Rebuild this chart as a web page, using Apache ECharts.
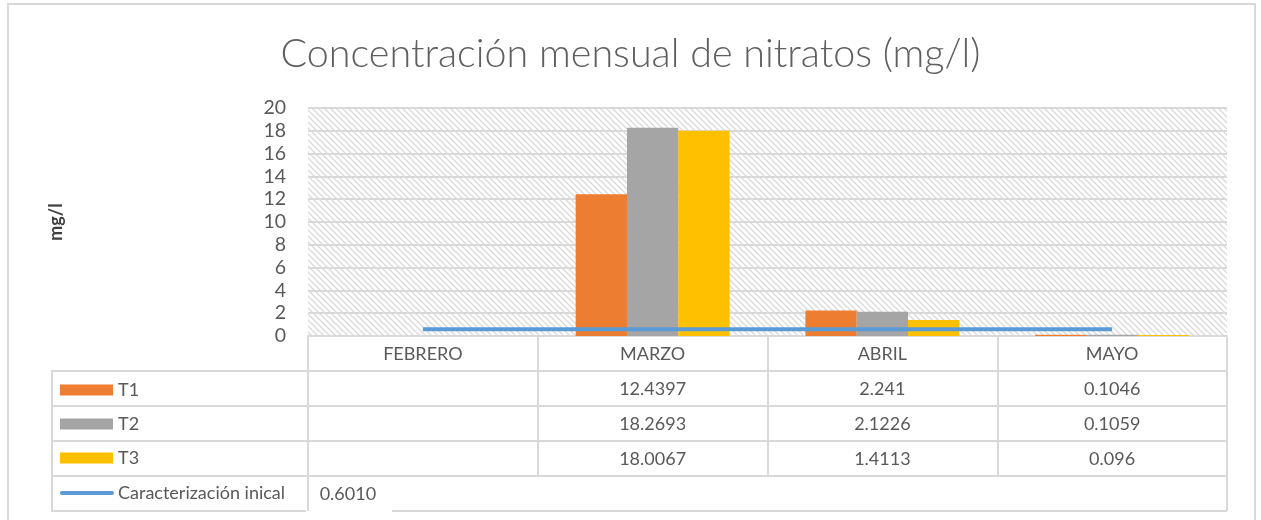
<!DOCTYPE html>
<html>
<head>
<meta charset="utf-8">
<script src="https://cdn.jsdelivr.net/npm/echarts@6/dist/echarts.min.js"></script>
<style>
  html, body { margin: 0; padding: 0; background: #fff; }
  #chart { width: 1261px; height: 520px; }
</style>
</head>
<body>
<div id="chart"></div>
<script>
const months = ['FEBRERO', 'MARZO', 'ABRIL', 'MAYO']
const t1 = [null, 12.4397, 2.241, 0.1046]
const t2 = [null, 18.2693, 2.1226, 0.1059]
const t3 = [null, 18.0067, 1.4113, 0.096]
const caract = [0.601, 0.601, 0.601, 0.601]
const caractShown = ['0.6010', '', '', '']
const yTicks = { min: 0, max: 20, interval: 2 }

const textColor = '#595959'
const gridColor = '#d9d9d9'
const lineColor = '#5B9BD5'
const bodyFont = 'Lato, "Open Sans", sans-serif'
const tableSize = 18

// diagonal hatch for the plot background
function hatch() {
  const c = document.createElement('canvas')
  c.width = 6
  c.height = 6
  const ctx = c.getContext('2d')
  ctx.fillStyle = '#fff'
  ctx.fillRect(0, 0, 6, 6)
  ctx.strokeStyle = '#d9d9d9'
  ctx.lineWidth = 1.3
  ctx.beginPath()
  ctx.moveTo(-1, -1); ctx.lineTo(7, 7)
  ctx.moveTo(-1, 5); ctx.lineTo(1, 7)
  ctx.moveTo(5, -1); ctx.lineTo(7, 1)
  ctx.stroke()
  return c
}

function rowAxis(offset, values) {
  return {
    type: 'category',
    data: months,
    position: 'bottom',
    offset: offset,
    axisLine: { show: true, lineStyle: { color: gridColor, width: 2 } },
    axisTick: { show: false },
    axisLabel: {
      interval: 0,
      margin: 9,
      color: textColor,
      fontSize: tableSize,
      fontFamily: bodyFont,
      formatter: (v, i) => (values[i] == null ? '' : String(values[i]))
    }
  }
}

function tableLine(x1, y1, x2, y2) {
  return { type: 'line', silent: true, shape: { x1, y1, x2, y2 }, style: { stroke: gridColor, lineWidth: 2 } }
}

const chart = echarts.init(document.getElementById('chart'))
chart.setOption({
  animation: false,
  title: {
    text: 'Concentración mensual de nitratos (mg/l)',
    left: 'center',
    top: 29,
    textStyle: {
      color: '#5f5f5f',
      fontSize: 39.5,
      fontWeight: 300,
      fontFamily: bodyFont
    }
  },
  grid: {
    left: 308,
    right: 34,
    top: 108,
    bottom: 184,
    show: true,
    borderWidth: 0,
    backgroundColor: { image: hatch(), repeat: 'repeat' }
  },
  legend: {
    orient: 'vertical',
    left: 55,
    top: 376,
    icon: 'rect',
    itemWidth: 53,
    itemHeight: 11,
    itemGap: 16,
    selectedMode: false,
    textStyle: { color: textColor, fontSize: tableSize, fontFamily: bodyFont },
    data: ['T1', 'T2', 'T3']
  },
  xAxis: [
    {
      type: 'category',
      data: months,
      position: 'bottom',
      axisLine: { show: true, lineStyle: { color: gridColor, width: 2 } },
      axisTick: { show: true, interval: 0, length: 139, lineStyle: { color: gridColor, width: 2 } },
      axisLabel: {
        interval: 0,
        margin: 9,
        color: textColor,
        fontSize: tableSize,
        fontFamily: bodyFont
      }
    },
    rowAxis(35, t1),
    rowAxis(70, t2),
    rowAxis(105, t3),
    {
      type: 'category',
      data: months,
      position: 'bottom',
      offset: 140,
      axisLine: { show: true, lineStyle: { color: gridColor, width: 2 } },
      axisTick: { show: false },
      axisLabel: {
        interval: 0,
        margin: 9,
        color: textColor,
        fontSize: tableSize,
        fontFamily: bodyFont,
        formatter: (v, i) => caractShown[i] ? '{s|' + caractShown[i] + '}' : '',
        rich: { s: { color: textColor, fontSize: tableSize, fontFamily: bodyFont, padding: [0, 150, 0, 0] } }
      }
    }
  ],
  yAxis: {
    type: 'value',
    min: yTicks.min,
    max: yTicks.max,
    interval: yTicks.interval,
    name: 'mg/l',
    nameLocation: 'middle',
    nameRotate: 90,
    nameGap: 243,
    nameTextStyle: { color: '#404040', fontSize: 18, fontWeight: 'bold', fontFamily: bodyFont },
    axisLine: { show: false },
    axisTick: { show: false },
    axisLabel: { color: textColor, fontSize: 19.5, margin: 22, fontFamily: bodyFont },
    splitLine: { show: true, lineStyle: { color: gridColor, width: 2 } }
  },
  series: [
    { name: 'T1', type: 'bar', data: t1, itemStyle: { color: '#ED7D31' }, barGap: 0, barCategoryGap: '33%' },
    { name: 'T2', type: 'bar', data: t2, itemStyle: { color: '#A5A5A5' }, barGap: 0, barCategoryGap: '33%' },
    { name: 'T3', type: 'bar', data: t3, itemStyle: { color: '#FFC000' }, barGap: 0, barCategoryGap: '33%' },
    {
      name: 'Caracterización inical',
      type: 'line',
      data: caract,
      symbol: 'none',
      z: 5,
      lineStyle: { color: lineColor, width: 4 },
      itemStyle: { color: lineColor }
    }
  ],
  graphic: [
    // chart border
    { type: 'rect', silent: true, shape: { x: 8, y: 4, width: 1247, height: 530 }, style: { fill: 'none', stroke: gridColor, lineWidth: 2 } },
    // legend key of the line series (drawn by hand: plain line, no marker)
    { type: 'line', silent: true, shape: { x1: 62, y1: 493, x2: 112, y2: 493 }, style: { stroke: lineColor, lineWidth: 4, lineCap: 'round' } },
    { type: 'text', silent: true, x: 118, y: 493, style: { text: 'Caracterización inical', fill: textColor, fontSize: tableSize, fontFamily: bodyFont, verticalAlign: 'middle' } },
    // legend column and last row of the data table
    tableLine(52, 371, 308, 371),
    tableLine(52, 406, 308, 406),
    tableLine(52, 441, 308, 441),
    tableLine(52, 476, 308, 476),
    tableLine(52, 511, 306, 511),
    tableLine(392, 511, 1227, 511),
    tableLine(52, 370, 52, 512),
    tableLine(308, 476, 308, 511),
    tableLine(1227, 476, 1227, 511)
  ]
})
</script>
</body>
</html>
